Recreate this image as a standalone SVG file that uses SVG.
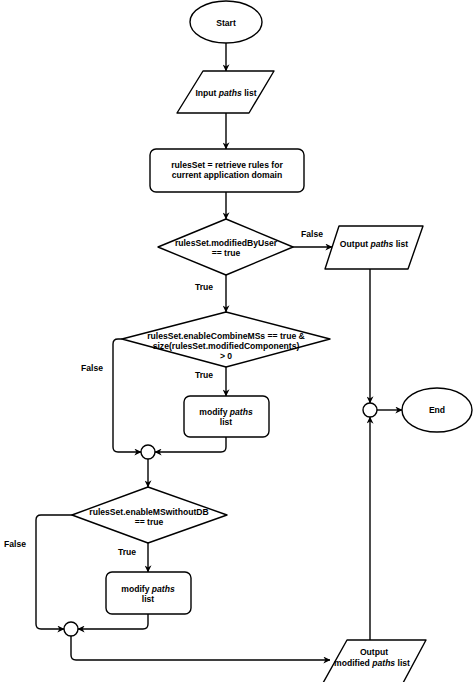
<svg xmlns="http://www.w3.org/2000/svg" width="474" height="682" viewBox="0 0 474 682">
<defs>
<marker id="arr" viewBox="0 0 10 10" refX="9.5" refY="5" markerWidth="7" markerHeight="7" markerUnits="userSpaceOnUse" orient="auto">
<path d="M0,0 L10,5 L0,10 L3,5 z" fill="#000"/>
</marker>
<style>
.n{fill:#fff;stroke:#000;stroke-width:1.4;stroke-linejoin:round}
.c{fill:none;stroke:#000;stroke-width:1.4;marker-end:url(#arr)}
.l{fill:none;stroke:#000;stroke-width:1.4}
text{font-family:"Liberation Sans",Arial,sans-serif;font-size:8.6px;font-weight:bold;fill:#000;text-anchor:middle;dominant-baseline:central}
</style>
</defs>
<rect width="474" height="682" fill="#fff"/>
<g id="connectors">
<path class="c" d="M226,43 L226,71"/>
<path class="c" d="M226,113 L226,149"/>
<path class="c" d="M226,192 L226,219"/>
<path class="c" d="M293,247 L332,247"/>
<path class="c" d="M370,269 L370,403"/>
<path class="c" d="M226,275 L226,312"/>
<path class="c" d="M122,339 L118,339 Q113,339 113,344 L113,447 Q113,452 118,452 L141,452"/>
<path class="c" d="M226,367 L226,396"/>
<path class="c" d="M226,437 L226,447 Q226,452 221,452 L155,452"/>
<path class="c" d="M148,459 L148,487"/>
<path class="c" d="M72,515 L41,515 Q36,515 36,520 L36,624 Q36,629 41,629 L64,629"/>
<path class="c" d="M148,543 L148,572"/>
<path class="c" d="M148,614 L148,624 Q148,629 143,629 L78,629"/>
<path class="c" d="M71,636 L71,655 Q71,660 76,660 L330,660"/>
<path class="c" d="M370,640 L370,417"/>
<path class="c" d="M377,410 L402,410"/>
<text x="312" y="234">False</text>
<text x="204" y="287">True</text>
<text x="92" y="368">False</text>
<text x="204" y="375">True</text>
<text x="15" y="544">False</text>
<text x="127" y="552">True</text>
</g>
<g id="start">
<ellipse class="n" cx="226" cy="22" rx="36" ry="21"/>
<text x="226" y="23">Start</text>
</g>
<g id="input">
<path class="n" d="M203,71 L274,71 L249,113 L177,113 Z"/>
<text x="226" y="93">Input <tspan font-style="italic">paths</tspan> list</text>
</g>
<g id="retrieve">
<rect class="n" x="150" y="149" width="154" height="43" rx="6"/>
<text x="227" y="165">rulesSet = retrieve rules for</text>
<text x="227" y="175">current application domain</text>
</g>
<g id="decision1">
<path class="n" d="M226,219 L293,247 L226,275 L158,247 Z"/>
<text x="226" y="243">rulesSet.modifiedByUser</text>
<text x="226" y="253">== true</text>
</g>
<g id="output1">
<path class="n" d="M339,226 L423,226 L408,269 L325,269 Z"/>
<text x="374" y="244">Output <tspan font-style="italic">paths</tspan> list</text>
</g>
<g id="decision2">
<path class="n" d="M226,312 L330,339 L226,367 L122,339 Z"/>
<text x="226" y="336">rulesSet.enableCombineMSs == true &amp;</text>
<text x="226" y="346">size(rulesSet.modifiedComponents)</text>
<text x="226" y="356">&gt; 0</text>
</g>
<g id="modify1">
<rect class="n" x="184" y="396" width="85" height="41" rx="6"/>
<text x="226" y="412">modify <tspan font-style="italic">paths</tspan></text>
<text x="226" y="422">list</text>
</g>
<g id="merge1">
<circle class="n" cx="148" cy="452" r="7"/>
</g>
<g id="decision3">
<path class="n" d="M148,487 L227,515 L148,543 L72,515 Z"/>
<text x="149" y="512">rulesSet.enableMSwithoutDB</text>
<text x="149" y="522">== true</text>
</g>
<g id="modify2">
<rect class="n" x="106" y="572" width="85" height="42" rx="6"/>
<text x="148" y="589">modify <tspan font-style="italic">paths</tspan></text>
<text x="148" y="599">list</text>
</g>
<g id="merge2">
<circle class="n" cx="71" cy="629" r="7"/>
</g>
<g id="output2">
<path class="n" d="M347,640 L426,640 L403,683 L323,683 Z"/>
<text x="374" y="652">Output</text>
<text x="372" y="663">modified <tspan font-style="italic">paths</tspan> list</text>
</g>
<g id="merge3">
<circle class="n" cx="370" cy="410" r="7"/>
</g>
<g id="end">
<ellipse class="n" cx="437" cy="410" rx="35" ry="22"/>
<text x="437" y="410">End</text>
</g>
</svg>
